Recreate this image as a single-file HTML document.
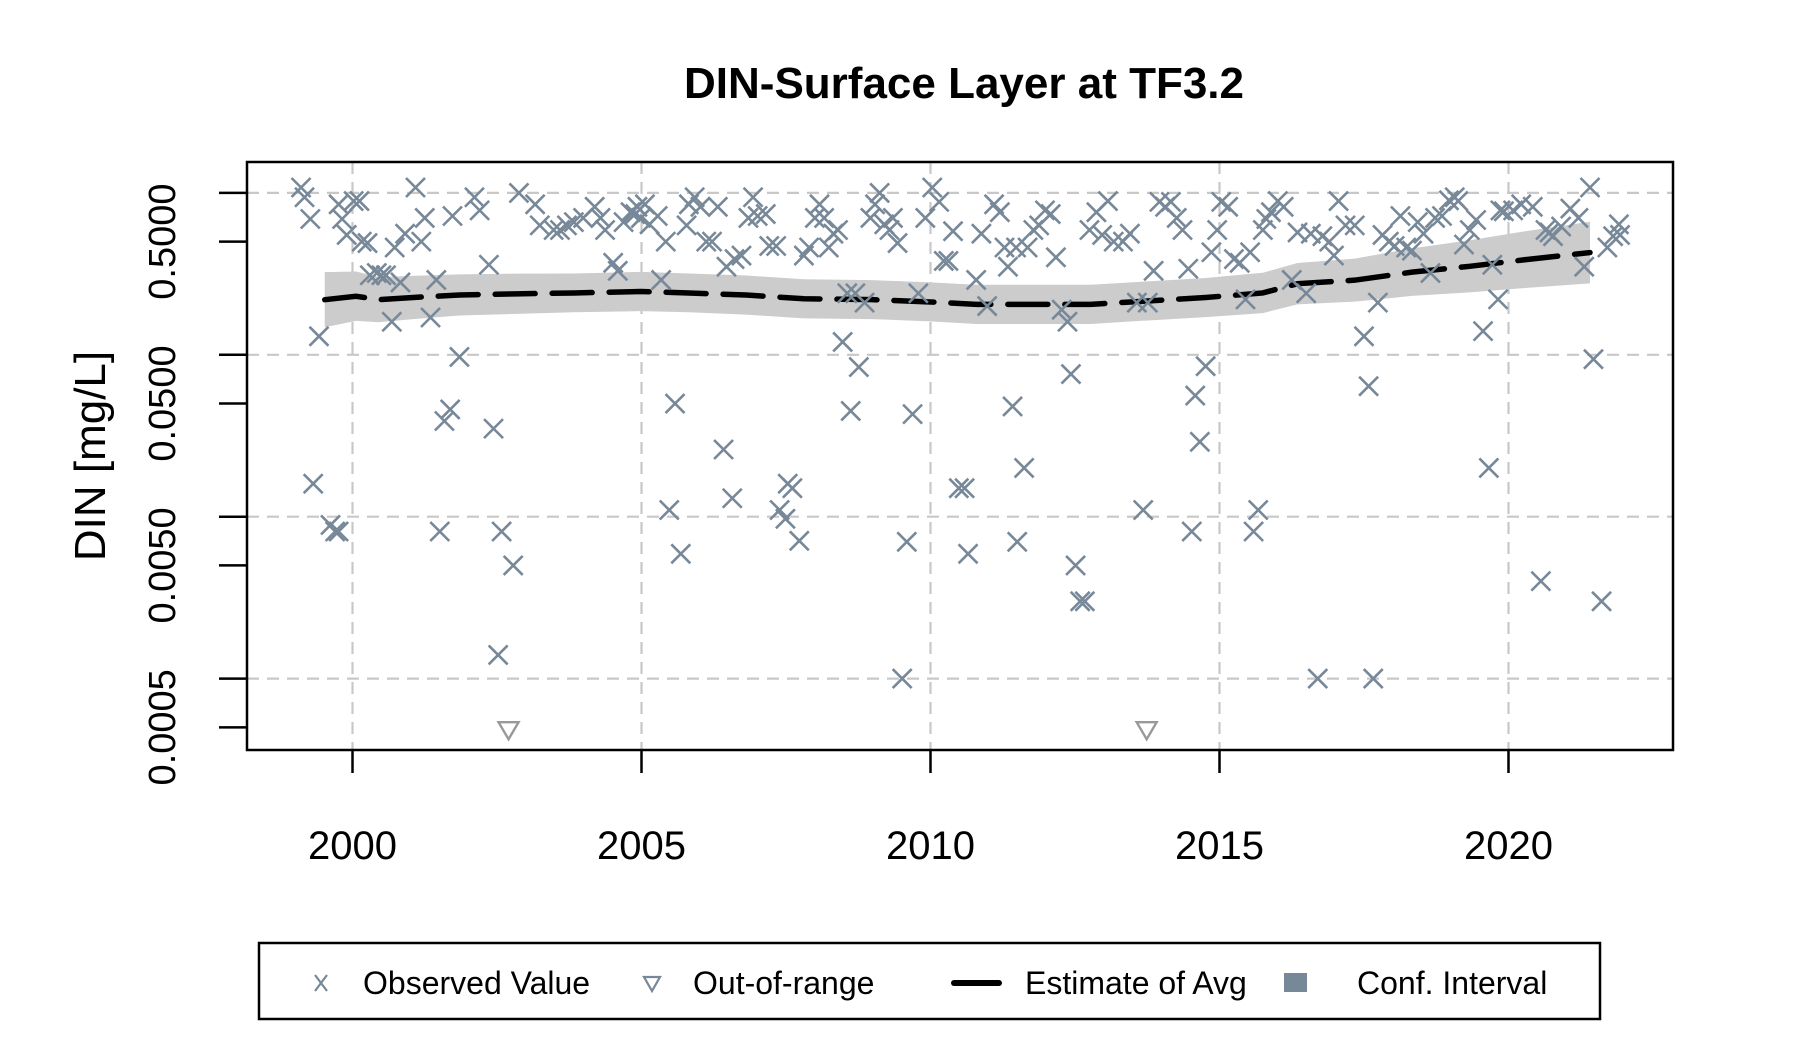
<!DOCTYPE html>
<html><head><meta charset="utf-8"><style>
html,body{margin:0;padding:0;background:#fff;}
svg{display:block;font-family:"Liberation Sans",Arial,sans-serif;}
</style></head><body>
<svg id="chart" width="1800" height="1050" viewBox="0 0 1800 1050" xmlns="http://www.w3.org/2000/svg">
<text x="964" y="98" text-anchor="middle" font-size="44" font-weight="bold">DIN-Surface Layer at TF3.2</text>
<text transform="translate(105,456) rotate(-90)" text-anchor="middle" font-size="44">DIN [mg/L]</text>
<g id="grid"></g>
<g id="band"></g>
<g id="trend"></g>
<g id="points"></g>
<g id="axes"></g>
<rect x="247" y="162" width="1426" height="588" fill="none" stroke="#000" stroke-width="2.5"/>
<g>
<rect x="259" y="943" width="1341" height="76" fill="none" stroke="#000" stroke-width="2.5"/>
<g>
<path d="M315,975 L327,991 M327,975 L315,991" stroke="#778899" stroke-width="2.2"/>
<text x="363" y="994" font-size="32">Observed Value</text></g>
<g>
<path d="M644,977 L660,977 L652,991 Z" fill="none" stroke="#778899" stroke-width="2.2"/>
<text x="693" y="994" font-size="32">Out-of-range</text></g>
<g>
<line x1="954" y1="983" x2="999" y2="983" stroke="#000" stroke-width="6" stroke-linecap="round"/>
<text x="1025" y="994" font-size="32">Estimate of Avg</text></g>
<g>
<rect x="1284" y="973" width="23" height="19" fill="#778899"/>
<text x="1357" y="994" font-size="32">Conf. Interval</text></g>
</g>
</svg>
<script>
const obsYears=[1999.11,1999.17,1999.27,1999.42,1999.32,1999.62,1999.70,1999.76,1999.76,1999.82,1999.90,2000.02,2000.12,2000.16,2000.26,2000.30,2000.42,2000.50,2000.58,2000.68,2000.73,2000.83,2000.91,2001.09,2001.19,2001.25,2001.35,2001.45,2001.59,2001.69,2001.73,2001.85,2001.51,2002.11,2002.20,2002.36,2002.44,2002.58,2002.78,2002.52,2002.88,2003.16,2003.24,2003.48,2003.59,2003.71,2003.83,2003.99,2004.19,2004.29,2004.37,2004.51,2004.59,2004.69,2004.81,2004.89,2004.93,2004.99,2005.06,2005.14,2005.28,2005.34,2005.42,2005.48,2005.58,2005.68,2005.78,2005.82,2005.92,2006.02,2006.12,2006.22,2006.32,2006.42,2006.47,2006.57,2006.61,2006.73,2006.85,2006.93,2007.01,2007.15,2007.21,2007.33,2007.39,2007.49,2007.53,2007.61,2007.73,2007.81,2007.90,2008.00,2008.08,2008.16,2008.24,2008.32,2008.40,2008.48,2008.56,2008.62,2008.70,2008.76,2008.86,2008.96,2009.04,2009.12,2009.20,2009.29,2009.35,2009.43,2009.51,2009.59,2009.69,2009.79,2009.91,2010.03,2010.15,2010.23,2010.31,2010.39,2010.49,2010.59,2010.65,2010.79,2010.88,2010.98,2011.10,2011.20,2011.28,2011.34,2011.42,2011.48,2011.50,2011.62,2011.68,2011.78,2011.88,2011.98,2012.08,2012.17,2012.27,2012.37,2012.43,2012.51,2012.59,2012.67,2012.75,2012.87,2012.97,2013.07,2013.17,2013.33,2013.45,2013.57,2013.68,2013.76,2013.86,2013.96,2014.06,2014.16,2014.26,2014.36,2014.46,2014.52,2014.58,2014.66,2014.76,2014.86,2014.96,2015.03,2015.15,2015.25,2015.35,2015.45,2015.53,2015.59,2015.67,2015.75,2015.81,2015.89,2016.01,2016.11,2016.25,2016.35,2016.50,2016.58,2016.70,2016.78,2016.90,2016.98,2017.06,2017.18,2017.34,2017.50,2017.58,2017.66,2017.74,2017.82,2017.93,2018.03,2018.13,2018.23,2018.33,2018.43,2018.53,2018.65,2018.73,2018.85,2018.97,2019.07,2019.13,2019.23,2019.33,2019.44,2019.56,2019.66,2019.72,2019.82,2019.86,2019.92,2020.08,2020.22,2020.42,2020.56,2020.64,2020.71,2020.77,2020.91,2021.07,2021.21,2021.31,2021.41,2021.47,2021.61,2021.71,2021.81,2021.91,2021.93];
const obsValues=[1.08,0.94,0.69,0.13,0.016,0.0089,0.0081,0.0081,0.85,0.69,0.55,0.89,0.89,0.50,0.49,0.31,0.32,0.31,0.31,0.16,0.46,0.28,0.56,1.08,0.50,0.70,0.17,0.29,0.039,0.046,0.72,0.097,0.0081,0.94,0.78,0.36,0.035,0.0081,0.0050,0.0014,1.0,0.85,0.63,0.59,0.59,0.63,0.66,0.70,0.82,0.70,0.59,0.37,0.33,0.66,0.76,0.74,0.82,0.70,0.85,0.64,0.72,0.29,0.50,0.011,0.050,0.0059,0.63,0.85,0.94,0.82,0.50,0.50,0.82,0.026,0.35,0.013,0.39,0.41,0.70,0.94,0.72,0.74,0.47,0.47,0.011,0.0097,0.016,0.015,0.0071,0.41,0.46,0.70,0.85,0.70,0.46,0.56,0.59,0.12,0.24,0.045,0.24,0.084,0.21,0.70,0.85,1.0,0.64,0.59,0.70,0.49,0.0010,0.0070,0.043,0.24,0.70,1.08,0.88,0.38,0.38,0.58,0.015,0.015,0.0059,0.29,0.56,0.20,0.85,0.76,0.46,0.35,0.048,0.46,0.0070,0.020,0.46,0.59,0.63,0.78,0.74,0.40,0.19,0.16,0.076,0.0050,0.0030,0.0030,0.59,0.76,0.55,0.89,0.50,0.50,0.56,0.21,0.011,0.21,0.33,0.88,0.82,0.88,0.70,0.59,0.34,0.0081,0.056,0.029,0.085,0.43,0.59,0.88,0.82,0.39,0.37,0.22,0.43,0.0081,0.011,0.59,0.69,0.76,0.89,0.82,0.29,0.57,0.24,0.56,0.0010,0.54,0.50,0.41,0.89,0.63,0.63,0.13,0.064,0.0010,0.21,0.55,0.50,0.47,0.72,0.46,0.44,0.66,0.56,0.32,0.70,0.72,0.90,0.94,0.89,0.48,0.59,0.68,0.14,0.020,0.36,0.22,0.78,0.77,0.78,0.85,0.82,0.0040,0.59,0.57,0.54,0.62,0.80,0.70,0.35,1.08,0.094,0.0030,0.46,0.54,0.64,0.55];
const oorYears=[2002.70,2013.74];
const oorValues=[0.00048,0.00048];
const trendYears=[1999.52,2000.06,2000.46,2001.05,2001.85,2002.84,2003.83,2004.99,2005.82,2006.81,2007.81,2009.0,2010.0,2010.79,2011.78,2012.77,2013.76,2014.76,2015.75,2016.35,2017.34,2018.33,2019.33,2020.32,2021.41];
const trendValues=[0.219,0.230,0.219,0.226,0.234,0.238,0.241,0.246,0.241,0.234,0.222,0.219,0.212,0.205,0.205,0.205,0.215,0.226,0.241,0.275,0.289,0.324,0.352,0.388,0.428];
const ciLow=[0.148,0.162,0.159,0.166,0.175,0.179,0.183,0.186,0.183,0.177,0.168,0.166,0.161,0.155,0.155,0.155,0.163,0.171,0.181,0.205,0.213,0.231,0.243,0.259,0.276];
const ciHigh=[0.324,0.327,0.302,0.307,0.314,0.317,0.318,0.325,0.318,0.309,0.293,0.289,0.280,0.271,0.271,0.271,0.284,0.298,0.321,0.369,0.393,0.454,0.510,0.582,0.663];
const xTickYears=[2000,2005,2010,2015,2020];
const yTickValues=[1,0.5,0.1,0.05,0.01,0.005,0.001,0.0005];
const yLabelValues=[0.5,0.05,0.005,0.0005];
const yLabelText=["0.5000","0.0500","0.0050","0.0005"];
const yGridValues=[1,0.1,0.01,0.001];

const NS="http://www.w3.org/2000/svg";
const L=247,R=1673,T=162,B=750;
function xs(y){return 352.5+(y-2000)*57.8;}
function ys(v){return 192.9-161.9*Math.log10(v);}
function mk(tag,attrs,parent){const e=document.createElementNS(NS,tag);for(const k in attrs)e.setAttribute(k,attrs[k]);parent.appendChild(e);return e;}
const grid=document.getElementById('grid'),axes=document.getElementById('axes'),band=document.getElementById('band'),trend=document.getElementById('trend'),pts=document.getElementById('points');
xTickYears.forEach(y=>{
  const g=mk('line',{x1:xs(y),x2:xs(y),y1:T,y2:B,stroke:'#c8c8c8','stroke-width':2.2,'stroke-dasharray':'12 8'},grid);
  
  
  const t=mk('line',{x1:xs(y),x2:xs(y),y1:B,y2:B+23,stroke:'#000','stroke-width':2.5},axes);
  
  
  const l=mk('text',{x:xs(y),y:859,'text-anchor':'middle','font-size':40},axes);
  l.textContent=y;
  
  
});
yGridValues.forEach(v=>{
  const g=mk('line',{x1:L,x2:R,y1:ys(v),y2:ys(v),stroke:'#c8c8c8','stroke-width':2.2,'stroke-dasharray':'12 8'},grid);
  
  
});
yTickValues.forEach(v=>{
  const t=mk('line',{x1:L-28,x2:L,y1:ys(v),y2:ys(v),stroke:'#000','stroke-width':2.5},axes);
  
  
});
yLabelValues.forEach((v,i)=>{
  const l=mk('text',{transform:`translate(175,${ys(v)}) rotate(-90)`,'text-anchor':'middle','font-size':38},axes);
  l.textContent=yLabelText[i];
  
  
});
let d='';
trendYears.forEach((y,i)=>{d+=(i?'L':'M')+xs(y)+','+ys(ciHigh[i]);});
for(let i=trendYears.length-1;i>=0;i--)d+='L'+xs(trendYears[i])+','+ys(ciLow[i]);
const bp=mk('path',{d:d+'Z',fill:'#cccccc'},band);


let td='';
trendYears.forEach((y,i)=>{td+=(i?'L':'M')+xs(y)+','+ys(trendValues[i]);});
const tp=mk('path',{d:td,fill:'none',stroke:'#000','stroke-width':5.5,'stroke-dasharray':'40 17','stroke-linecap':'round'},trend);


obsYears.forEach((y,i)=>{
  const cx=xs(y),cy=ys(obsValues[i]),s=9.5;
  const p=mk('path',{d:`M${cx-s},${cy-s}L${cx+s},${cy+s}M${cx+s},${cy-s}L${cx-s},${cy+s}`,stroke:'#778899','stroke-width':2.6,fill:'none'},pts);
  
  
});
oorYears.forEach((y,i)=>{
  const cx=xs(y),cy=ys(oorValues[i]);
  const p=mk('path',{d:`M${cx-10},${cy-8}L${cx+10},${cy-8}L${cx},${cy+9}Z`,stroke:'#999999','stroke-width':2.4,fill:'none'},pts);
  
  
});
</script>
</body></html>
